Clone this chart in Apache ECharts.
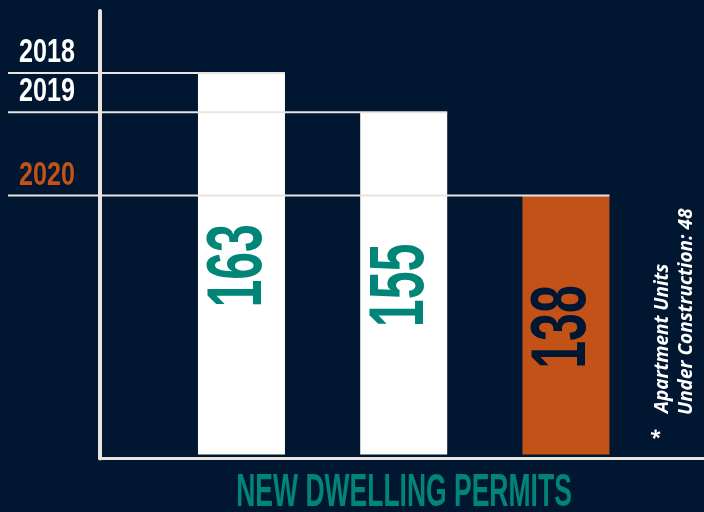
<!DOCTYPE html>
<html>
<head>
<meta charset="utf-8">
<script src="https://cdn.jsdelivr.net/npm/echarts@6/dist/echarts.min.js"></script>
<style>
    html, body { margin: 0; padding: 0; background: #011631; }
    #chart { width: 704px; height: 512px; }
</style>
</head>
<body>
<div id="chart"></div>
<script>
var years = ['2018', '2019', '2020'];
var permits = [163, 155, 138];
var titleText = 'NEW DWELLING PERMITS';
var noteMark = '*';
var noteLines = ['Apartment Units', 'Under Construction: 48'];

var BG = '#011631', ORANGE = '#c25218', TEAL = '#008577', LINE = '#e9e4e0';
var current = 2;      // year that is highlighted
var baseValue = 85;   // where the bars start
var barW = 87;

var chart = echarts.init(document.getElementById('chart'));

var barData = permits.map(function (v, i) {
    return { value: [i, v], itemStyle: { color: i == current ? ORANGE : '#ffffff' } };
});

var noteFont = 'italic bold 19px "Open Sans"';

var option = {
    backgroundColor: BG,
    animation: false,
    grid: { left: 100, right: 0, top: 11, bottom: 53.5 },
    xAxis: {
        type: 'value',
        min: -0.872,
        max: 2.851,
        axisLine: { show: true, onZero: false, lineStyle: { color: LINE, width: 3 } },
        axisTick: { show: false },
        axisLabel: { show: false },
        splitLine: { show: false }
    },
    yAxis: {
        type: 'value',
        min: 84.2,
        max: 175.7,
        startValue: baseValue,
        axisLine: { show: true, onZero: false, lineStyle: { color: LINE, width: 4 } },
        axisTick: { show: false },
        axisLabel: { show: false },
        splitLine: { show: false }
    },
    series: [{
        type: 'bar',
        data: barData,
        barWidth: barW,
        clip: true,
        z: 2
    }, {
        type: 'custom',
        z: 3,
        data: permits.map(function (v, i) { return [i, v]; }),
        renderItem: function (params, api) {
            var i = api.value(0), v = api.value(1);
            var top = api.coord([i, v]);
            var base = api.coord([i, baseValue]);
            var ly = top[1];
            return {
                type: 'group',
                children: [{
                    type: 'line',
                    shape: { x1: 8, y1: ly, x2: top[0] + barW / 2, y2: ly },
                    style: { stroke: LINE, lineWidth: 2 }
                }, {
                    type: 'text',
                    x: 19,
                    y: ly - 20,
                    scaleX: 0.75,
                    style: {
                        text: years[i],
                        fill: i == current ? ORANGE : '#ffffff',
                        font: 'bold 33.5px "Liberation Sans"',
                        align: 'left',
                        verticalAlign: 'middle'
                    }
                }, {
                    type: 'text',
                    x: top[0] - 2,
                    y: (top[1] + base[1]) / 2 + 2,
                    rotation: Math.PI / 2,
                    scaleX: 0.65,
                    style: {
                        text: String(v),
                        fill: i == current ? BG : TEAL,
                        font: 'bold 77px "Liberation Sans"',
                        align: 'center',
                        verticalAlign: 'middle'
                    }
                }]
            };
        }
    }],
    graphic: [{
        type: 'text',
        x: 404,
        y: 493.5,
        scaleX: 0.576,
        style: {
            text: titleText,
            fill: TEAL,
            font: 'bold 46px "Liberation Sans"',
            align: 'center',
            verticalAlign: 'middle'
        }
    }, {
        type: 'text',
        x: 661,
        y: 435,
        rotation: Math.PI / 2,
        style: {
            text: noteMark,
            fill: '#ffffff',
            font: noteFont,
            align: 'center',
            verticalAlign: 'middle'
        }
    }, {
        type: 'text',
        x: 663,
        y: 413,
        rotation: Math.PI / 2,
        style: {
            text: noteLines[0],
            fill: '#ffffff',
            font: noteFont,
            align: 'left',
            verticalAlign: 'middle'
        }
    }, {
        type: 'text',
        x: 687,
        y: 415,
        rotation: Math.PI / 2,
        style: {
            text: noteLines[1],
            fill: '#ffffff',
            font: noteFont,
            align: 'left',
            verticalAlign: 'middle'
        }
    }]
};
chart.setOption(option);
</script>
</body>
</html>
